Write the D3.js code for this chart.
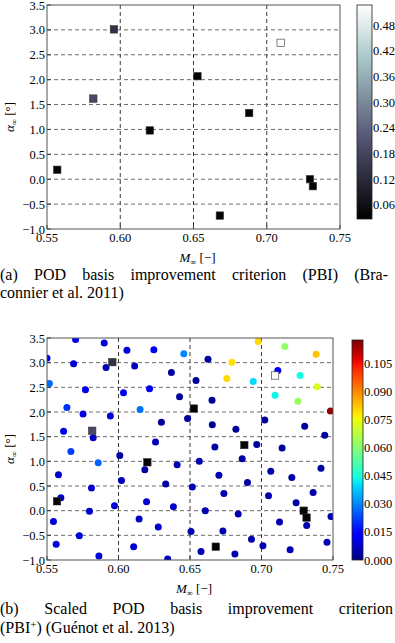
<!DOCTYPE html>
<html>
<head>
<meta charset="utf-8">
<script src="https://cdn.jsdelivr.net/npm/d3@7"></script>
<style>
  body { margin: 0; background: #fff; }
  svg text { font-family: "Liberation Serif", "DejaVu Serif", serif; fill: #000; }
</style>
</head>
<body>
<div id="chart"></div>
<script>

// snapshots (squares), shared by both panels
const snapM     = [0.557, 0.5816, 0.5957, 0.6202, 0.6527, 0.668, 0.688, 0.7095, 0.7295, 0.7315];
const snapAlpha = [0.19, 1.62, 3.01, 0.98, 2.07, -0.73, 1.33, 2.74, 0.00, -0.14];
const snapPBI   = [0.035, 0.19, 0.14, 0.035, 0.033, 0.035, 0.033, 0.527, 0.033, 0.035];

// candidate points of panel (b)
const candM = [
  0.570, 0.590, 0.550, 0.5686, 0.5913, 0.6059, 0.6247, 0.6457, 0.6113, 0.637,
  0.5517, 0.5769, 0.6035, 0.6217, 0.6427, 0.5639, 0.5752, 0.5943, 0.6151, 0.630,
  0.6483, 0.5616, 0.5823, 0.6259,
  0.6626, 0.6793, 0.6977, 0.7163, 0.7382, 0.7114, 0.727, 0.6542, 0.6758, 0.6942,
  0.7389, 0.7095, 0.7254, 0.6654, 0.7482, 0.6656, 0.6821, 0.7023, 0.7302, 0.7442,
  0.6674, 0.6967, 0.7144,
  0.5667, 0.5858, 0.6009, 0.558, 0.5811, 0.6021, 0.6184, 0.641, 0.633, 0.5597,
  0.5797, 0.5972, 0.6196, 0.6384, 0.5545, 0.5726, 0.6144, 0.6278, 0.5564, 0.5863,
  0.6106, 0.6344,
  0.6565, 0.6865, 0.7416, 0.7065, 0.7212, 0.6702, 0.6902, 0.6516, 0.6737, 0.7049,
  0.7361, 0.7242, 0.6607, 0.6837, 0.7486, 0.7126, 0.7316, 0.6507, 0.673, 0.693,
  0.701, 0.72, 0.7458, 0.6577, 0.6814
];
const candAlpha = [
  3.47, 3.40, 3.09, 2.98, 2.90, 3.25, 3.26, 3.18, 2.93, 2.80,
  2.58, 2.45, 2.39, 2.47, 2.31, 2.09, 1.96, 1.92, 2.05, 1.79,
  1.87, 1.61, 1.48, 1.39,
  3.07, 3.01, 3.43, 3.33, 3.17, 2.84, 2.74, 2.64, 2.68, 2.62,
  2.51, 2.34, 2.22, 2.24, 2.02, 1.74, 1.65, 1.84, 1.71, 1.53,
  1.29, 1.34, 1.27,
  1.20, 0.97, 1.12, 0.73, 0.46, 0.61, 0.83, 0.93, 0.54, 0.26,
  -0.01, 0.10, 0.18, 0.08, -0.22, -0.51, -0.17, -0.33, -0.68, -0.92,
  -0.73, -0.98,
  1.00, 1.05, 0.86, 0.80, 0.67, 0.72, 0.57, 0.48, 0.35, 0.30,
  0.37, 0.16, 0.00, -0.07, -0.12, -0.23, -0.30, -0.42, -0.41, -0.58,
  -0.71, -0.79, -0.64, -0.83, -0.88
];
const candPBIplus = [
  0.011, 0.009, 0.011, 0.009, 0.006, 0.009, 0.012, 0.030, 0.006, 0.004,
  0.027, 0.011, 0.011, 0.012, 0.003, 0.020, 0.009, 0.009, 0.028, 0.003,
  0.003, 0.011, 0.007, 0.006,
  0.003, 0.079, 0.080, 0.062, 0.083, 0.014, 0.044, 0.003, 0.080, 0.040,
  0.072, 0.043, 0.063, 0.003, 0.115, 0.003, 0.003, 0.003, 0.003, 0.003,
  0.003, 0.003, 0.003,
  0.022, 0.026, 0.004, 0.008, 0.008, 0.006, 0.004, 0.005, 0.004, 0.008,
  0.008, 0.009, 0.008, 0.008, 0.009, 0.009, 0.008, 0.008, 0.009, 0.009,
  0.008, 0.007,
  0.005, 0.004, 0.004, 0.004, 0.004, 0.005, 0.004, 0.005, 0.005, 0.005,
  0.004, 0.004, 0.005, 0.005, 0.005, 0.005, 0.005, 0.005, 0.005, 0.005,
  0.005, 0.005, 0.005, 0.005, 0.005
];

const xTicks = [0.55, 0.60, 0.65, 0.70, 0.75];
const yTicks = [-1.0, -0.5, 0.0, 0.5, 1.0, 1.5, 2.0, 2.5, 3.0, 3.5];
const boneTicks = [0.06, 0.12, 0.18, 0.24, 0.30, 0.36, 0.42, 0.48];
const jetTicks = [0.000, 0.015, 0.030, 0.045, 0.060, 0.075, 0.090, 0.105];

const captionA = ["(a) POD basis improvement criterion (PBI) (Bra-", "connier et al. 2011)"];
const captionB = "(b) Scaled POD basis improvement criterion";

// matplotlib colormaps from their segment data
function segmentMap(r, g, b) {
  const ch = s => d3.scaleLinear().domain(s.map(p => p[0])).range(s.map(p => p[1])).clamp(true);
  const R = ch(r), G = ch(g), B = ch(b);
  return t => d3.rgb(255 * R(t), 255 * G(t), 255 * B(t)).toString();
}
const jet = segmentMap(
  [[0, 0], [0.35, 0], [0.66, 1], [0.89, 1], [1, 0.5]],
  [[0, 0], [0.125, 0], [0.375, 1], [0.64, 1], [0.91, 0], [1, 0]],
  [[0, 0.5], [0.11, 1], [0.34, 1], [0.65, 0], [1, 0]]
);
const bone = segmentMap(
  [[0, 0], [0.746032, 0.652778], [1, 1]],
  [[0, 0], [0.365079, 0.319444], [0.746032, 0.777778], [1, 1]],
  [[0, 0], [0.365079, 0.444444], [1, 1]]
);

const W = 395, H = 643;
const svg = d3.select("#chart").append("svg").attr("width", W).attr("height", H);
const defs = svg.append("defs");

const fmt2 = d3.format(".2f");
const minus = s => s.replace("-", "\u2212");
const tickSize = 12.5;
const capSize = 16;

function panel(id, box, cb) {
  const x = d3.scaleLinear().domain([0.55, 0.75]).range([box.left, box.right]);
  const y = d3.scaleLinear().domain([-1, 3.5]).range([box.bottom, box.top]);
  const g = svg.append("g");

  defs.append("clipPath").attr("id", "clip" + id)
    .append("rect").attr("x", box.left).attr("y", box.top)
    .attr("width", box.right - box.left).attr("height", box.bottom - box.top);

  // grid
  g.selectAll("line.vg").data(xTicks.slice(1, -1)).join("line")
    .attr("x1", d => x(d)).attr("x2", d => x(d))
    .attr("y1", box.top).attr("y2", box.bottom)
    .attr("stroke", "#222").attr("stroke-width", 0.9).attr("stroke-dasharray", "4,3");
  g.selectAll("line.hg").data(yTicks.slice(1, -1)).join("line")
    .attr("x1", box.left).attr("x2", box.right)
    .attr("y1", d => y(d)).attr("y2", d => y(d))
    .attr("stroke", "#444").attr("stroke-width", 0.8).attr("stroke-dasharray", "4,3");

  // tick labels
  g.selectAll("text.xt").data(xTicks).join("text")
    .attr("x", d => x(d)).attr("y", box.bottom + 13)
    .attr("text-anchor", "middle").style("font-size", tickSize + "px")
    .text(d => fmt2(d));
  g.selectAll("text.yt").data(yTicks).join("text")
    .attr("x", box.left - 2).attr("y", d => y(d) + 4.5)
    .attr("text-anchor", "end").style("font-size", tickSize + "px")
    .text(d => minus(d3.format(".1f")(d)));

  // inner ticks
  g.selectAll("line.xtk").data(xTicks).join("line")
    .attr("x1", d => x(d)).attr("x2", d => x(d))
    .attr("y1", box.bottom).attr("y2", box.bottom - 4).attr("stroke", "#333");
  g.selectAll("line.ytk").data(yTicks).join("line")
    .attr("x1", box.left).attr("x2", box.left + 4)
    .attr("y1", d => y(d)).attr("y2", d => y(d)).attr("stroke", "#333");

  const marks = g.append("g").attr("clip-path", `url(#clip${id})`);

  // colorbar
  const c = d3.scaleLinear().domain(cb.domain).range([cb.bottom, cb.top]);
  const grad = defs.append("linearGradient").attr("id", "grad" + id)
    .attr("x1", 0).attr("y1", 1).attr("x2", 0).attr("y2", 0);
  d3.range(0, 1.0001, 0.02).forEach(t => {
    grad.append("stop").attr("offset", t).attr("stop-color", cb.cmap(t));
  });
  g.append("rect").attr("x", cb.x).attr("y", cb.top).attr("width", cb.w)
    .attr("height", cb.bottom - cb.top).attr("fill", `url(#grad${id})`)
    .attr("stroke", "#222").attr("stroke-width", 0.8);
  g.selectAll("text.ct").data(cb.ticks).join("text")
    .attr("x", cb.x + cb.w + 1).attr("y", d => c(d) + 4.5)
    .style("font-size", tickSize + "px").text(d => cb.format(d));

  // frame
  g.append("rect").attr("x", box.left).attr("y", box.top)
    .attr("width", box.right - box.left).attr("height", box.bottom - box.top)
    .attr("fill", "none").attr("stroke", "#555").attr("stroke-width", 1);

  // axis labels
  const xl = g.append("text").attr("x", (box.left + box.right) / 2 + 4).attr("y", box.bottom + 33)
    .attr("text-anchor", "middle").style("font-size", "13px");
  xl.append("tspan").style("font-style", "italic").text("M");
  xl.append("tspan").attr("dy", 3).style("font-size", "8.5px").text("\u221E");
  xl.append("tspan").attr("dy", -3).text(" [\u2212]");

  const yl = g.append("text")
    .attr("transform", `translate(${box.left - 33},${(box.top + box.bottom) / 2}) rotate(-90)`)
    .attr("text-anchor", "middle").style("font-size", "13px");
  yl.append("tspan").style("font-style", "italic").text("\u03B1");
  yl.append("tspan").attr("dy", 3).style("font-size", "8.5px").text("\u221E");
  yl.append("tspan").attr("dy", -3).text(" [\u00B0]");

  return { x, y, c, marks };
}

function drawSnapshots(p, cmapScale) {
  const s = 7.4;
  p.marks.selectAll("rect.snap").data(snapM).join("rect")
    .attr("x", (d, i) => p.x(d) - s / 2)
    .attr("y", (d, i) => p.y(snapAlpha[i]) - s / 2)
    .attr("width", s).attr("height", s)
    .attr("fill", (d, i) => cmapScale(snapPBI[i]))
    .attr("stroke", "#333").attr("stroke-width", 0.6);
}

function justify(words, x0, width, yb, size) {
  const t = svg.append("g");
  const nodes = words.map(w => t.append("text").attr("y", yb).style("font-size", size + "px").text(w));
  const lens = nodes.map(n => n.node().getComputedTextLength());
  const gap = (width - d3.sum(lens)) / (words.length - 1);
  let cx = x0;
  nodes.forEach((n, i) => { n.attr("x", cx); cx += lens[i] + gap; });
}

// panel (a)
const boneDomA = [0.027, 0.527];
const pa = panel("a", { left: 47, right: 340, top: 5, bottom: 229 },
  { x: 357, w: 15, top: 5, bottom: 219, domain: boneDomA, cmap: bone, ticks: boneTicks, format: d3.format(".2f") });
const boneScale = d3.scaleSequential(bone).domain(boneDomA);
drawSnapshots(pa, boneScale);

justify(captionA[0].split(" "), 0, 388, 280, capSize);
svg.append("text").attr("x", 0).attr("y", 298).style("font-size", capSize + "px").text(captionA[1]);

// panel (b)
const jetDom = [0, 0.1177];
const pb = panel("b", { left: 47, right: 333, top: 338, bottom: 560 },
  { x: 352, w: 11, top: 340, bottom: 560, domain: jetDom, cmap: jet, ticks: jetTicks, format: d3.format(".3f") });
const jetScale = d3.scaleSequential(jet).domain(jetDom);

pb.marks.selectAll("circle.cand").data(candM).join("circle")
  .attr("cx", d => pb.x(d))
  .attr("cy", (d, i) => pb.y(candAlpha[i]))
  .attr("r", 3.5)
  .attr("fill", (d, i) => jetScale(candPBIplus[i]));
drawSnapshots(pb, boneScale);

justify(captionB.split(" "), 0, 393, 614, capSize);
const l2 = svg.append("text").attr("x", 0).attr("y", 633).style("font-size", capSize + "px");
l2.append("tspan").text("(PBI");
l2.append("tspan").attr("dy", -5).style("font-size", "11px").text("+");
l2.append("tspan").attr("dy", 5).text(") (Gu\u00E9not et al. 2013)");

</script>
</body>
</html>
